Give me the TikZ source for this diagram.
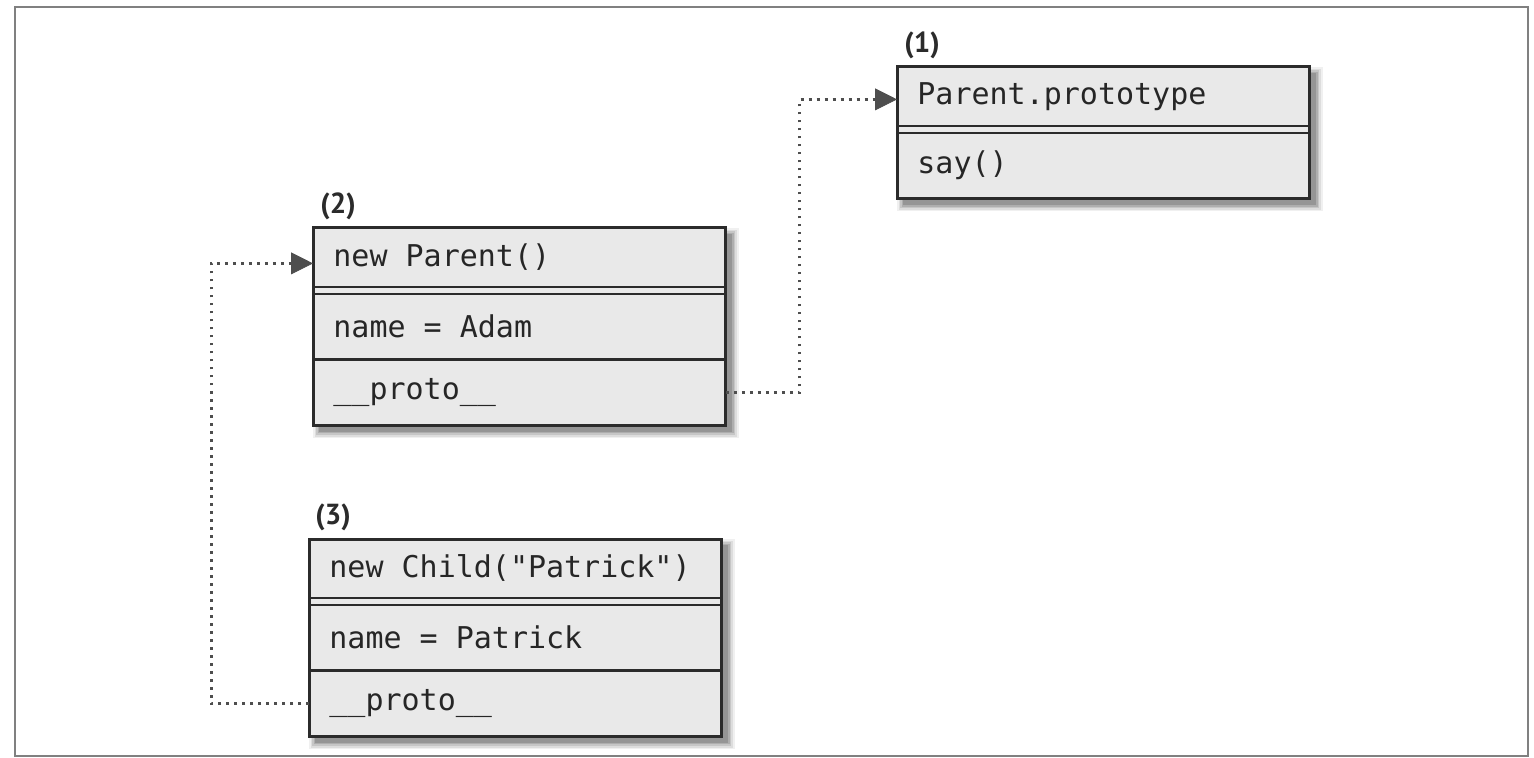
\documentclass[tikz,border=0pt]{standalone}
\usepackage{fontspec}
\setmonofont{DejaVu Sans Mono}
\newfontfamily\tagfont{PT Sans}
\usetikzlibrary{arrows.meta,backgrounds}
\definecolor{boxfill}{HTML}{E9E9E9}
\definecolor{boxline}{HTML}{2B2B2B}
\definecolor{linkcol}{HTML}{4E4E4E}
\definecolor{framecol}{HTML}{808080}
\definecolor{txtcol}{HTML}{262626}

\begin{document}
\begin{tikzpicture}[x=1pt,y=-1pt,
  cell/.style={anchor=north west, inner xsep=10pt, inner ysep=0pt,
    text width=186pt, align=flush left, minimum height=32.5pt,
    font=\ttfamily\fontsize{15}{18}\selectfont, text=txtcol},
  head/.style={cell, minimum height=29pt},
  tag/.style={anchor=west, inner sep=0pt,
    font=\tagfont\bfseries\fontsize{14.5}{16}\selectfont, text=boxline},
  link/.style={draw=linkcol, line width=1.5pt, dash pattern=on 1.4pt off 2.6pt,
    -{Triangle[length=11pt,width=11pt,line width=0.4pt]}},
  outline/.style={draw=boxline, line width=1.5pt},
  divider/.style={draw=boxline, line width=1.2pt},
  frame/.style={draw=framecol, line width=1pt}
]
\useasboundingbox (0,0) rectangle (767,379);
\draw[frame] (7.5,3.75) rectangle (764,378);

% (1) Parent.prototype
\node[tag] (t1) at (452,22.5) {(1)};
\node[head] (b1h) at (448.5,33.5) {Parent.prototype};
\node[cell] (b1m) at ([yshift=-3.5pt]b1h.south west) {say()};

% (2) new Parent()
\node[tag] (t2) at (160,103) {(2)};
\node[head] (b2h) at (156.5,114) {new Parent()};
\node[cell] (b2m) at ([yshift=-3.5pt]b2h.south west) {name = Adam};
\node[cell] (b2p) at (b2m.south west) {\_\_proto\_\_};

% (3) new Child("Patrick")
\node[tag] (t3) at (157.5,258.5) {(3)};
\node[head] (b3h) at (154.5,269.5) {new Child("Patrick")};
\node[cell] (b3m) at ([yshift=-3.5pt]b3h.south west) {name = Patrick};
\node[cell] (b3p) at (b3m.south west) {\_\_proto\_\_};

% soft shadows and fills behind the text
\begin{scope}[on background layer]
  \foreach \top/\bot in {b1h/b1m, b2h/b2p, b3h/b3p} {
    \foreach \r/\o in {3.4/0.06, 2.6/0.08, 1.8/0.10, 1.0/0.12, 0.3/0.14} {
      \fill[black, opacity=\o]
        ([shift={(3.4-\r,3.4-\r)}]\top.north west) rectangle
        ([shift={(3+\r,3+\r)}]\bot.south east);
    }
    \fill[boxfill] (\top.north west) rectangle (\bot.south east);
  }
\end{scope}

% outlines and row dividers
\foreach \top/\mid/\bot in {b1h/b1m/b1m, b2h/b2m/b2p, b3h/b3m/b3p} {
  \draw[outline] (\top.north west) rectangle (\bot.south east);
  \draw[divider] (\top.south west) -- (\top.south east);
  \draw[divider] (\mid.north west) -- (\mid.north east);
}
\draw[divider] (b2p.north west) -- (b2p.north east);
\draw[divider] (b3p.north west) -- (b3p.north east);

% prototype links
\draw[link] (b2p.east) -- ++(37,0) |- ([yshift=-1.5pt]b1h.west);
\draw[link] (b3p.west) -- ++(-49,0) |- ([yshift=-3pt]b2h.west);
\end{tikzpicture}
\end{document}
